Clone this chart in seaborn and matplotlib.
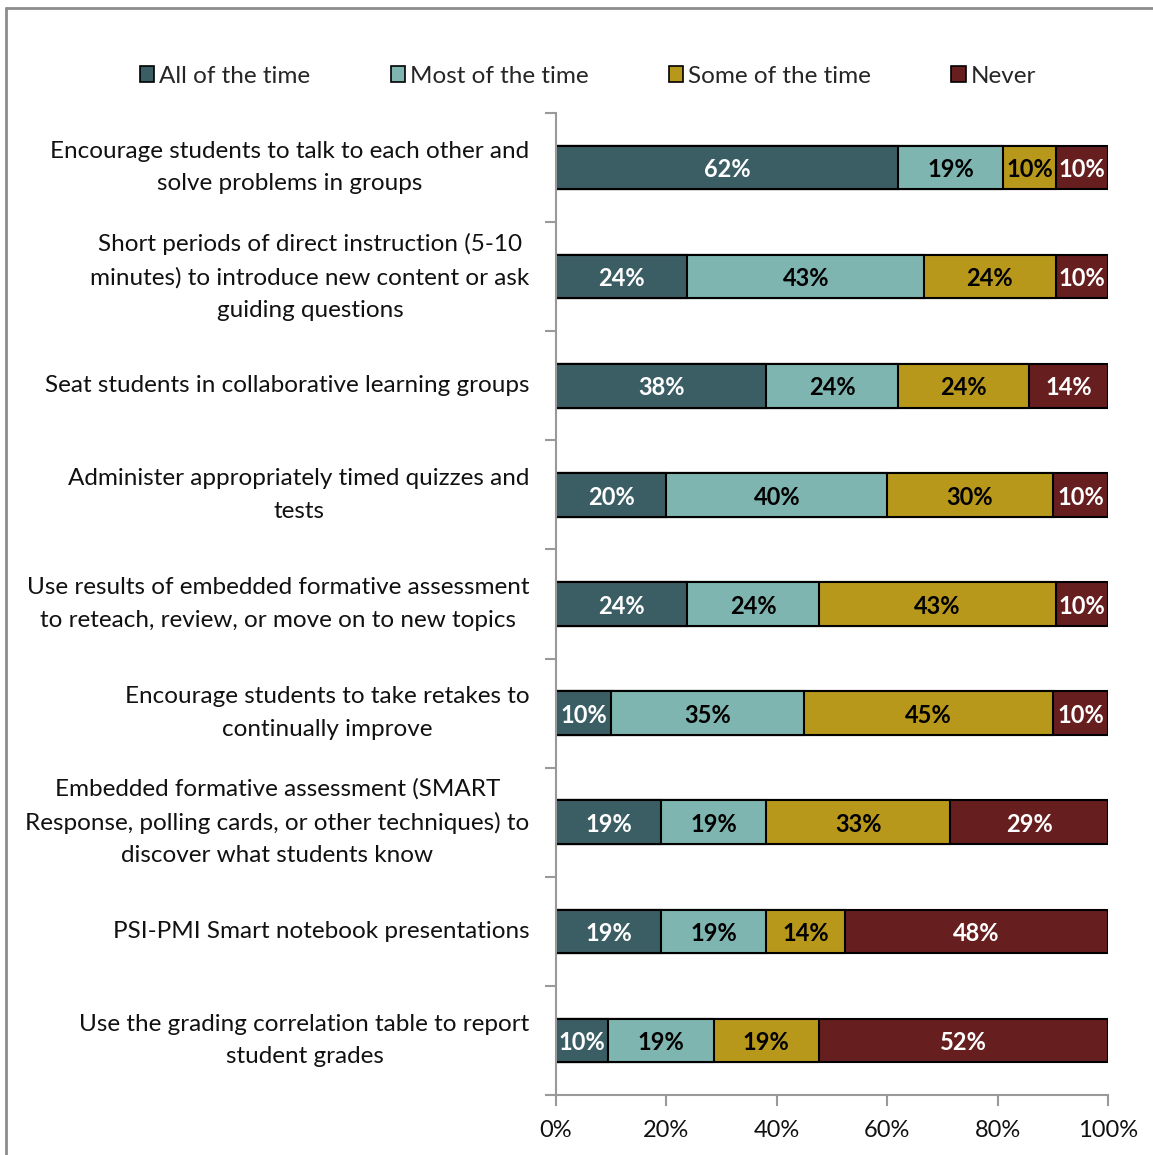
import matplotlib
matplotlib.use("Agg")
import matplotlib.pyplot as plt
import matplotlib.lines as mlines
from matplotlib.patches import Patch
import numpy as np
import pandas as pd
import seaborn as sns

# Survey items (top to bottom)
practices = [
    "Encourage students to talk to each other and\nsolve problems in groups",
    "Short periods of direct instruction (5-10\nminutes) to introduce new content or ask\nguiding questions",
    "Seat students in collaborative learning groups",
    "Administer appropriately timed quizzes and\ntests",
    "Use results of embedded formative assessment\nto reteach, review, or move on to new topics",
    "Encourage students to take retakes to\ncontinually improve",
    "Embedded formative assessment (SMART\nResponse, polling cards, or other techniques) to\ndiscover what students know",
    "PSI-PMI Smart notebook presentations",
    "Use the grading correlation table to report\nstudent grades",
]

responses = ["All of the time", "Most of the time", "Some of the time", "Never"]

# Share of respondents (%) for each response
all_of_time = [61.9, 23.8, 38.1, 20.0, 23.8, 10.0, 19.1, 19.0, 9.5]
most_of_time = [19.1, 42.9, 23.8, 40.0, 23.8, 35.0, 19.0, 19.1, 19.1]
some_of_time = [9.5, 23.8, 23.8, 30.0, 42.9, 45.0, 33.3, 14.3, 19.0]
never = [9.5, 9.5, 14.3, 10.0, 9.5, 10.0, 28.6, 47.6, 52.4]

x_ticks = [0, 20, 40, 60, 80, 100]

colors = ["#3B5E65", "#7FB5B0", "#B8981B", "#661E1F"]
label_colors = ["white", "black", "black", "white"]

df = pd.DataFrame({
    "practice": practices,
    responses[0]: all_of_time,
    responses[1]: most_of_time,
    responses[2]: some_of_time,
    responses[3]: never,
})
cum = df[responses].cumsum(axis=1)
starts = cum - df[responses].values

sns.set_style("white")
plt.rcParams["font.family"] = ["Lato", "DejaVu Sans"]

fig = plt.figure(figsize=(11.53, 11.55), dpi=100)
ax = fig.add_axes([0.4822, 0.0519, 0.4788, 0.8503])

# Stacked bars: draw cumulative totals from the widest down
for i in range(len(responses) - 1, -1, -1):
    sns.barplot(
        x=cum[responses[i]], y=df["practice"], orient="h",
        color=colors[i], saturation=1, width=0.4,
        edgecolor="black", linewidth=1.5, ax=ax,
    )

# Value labels centred in each segment
for i, r in enumerate(responses):
    for j in range(len(practices)):
        val = df[r].iloc[j]
        center = starts[r].iloc[j] + val / 2
        ax.text(center, j + 0.02, f"{val:.0f}%", ha="center", va="center",
                color=label_colors[i], fontsize=17, fontweight="bold")

n = len(practices)
ax.set_xlim(0, 100)
ax.set_ylim(n - 0.5, -0.5)
ax.set_xticks(x_ticks)
ax.set_xticklabels([f"{t}%" for t in x_ticks], fontsize=17, color="#111111")
ax.set_yticks(range(n))
ax.set_yticklabels(practices, fontsize=17.5, color="#111111", va="center",
                   multialignment="center", linespacing=1.68)
ax.set_xlabel("")
ax.set_ylabel("")

# Category separator ticks on the left spine
ax.tick_params(axis="y", which="major", left=False, length=0, pad=19)
ax.tick_params(axis="x", bottom=True, length=8, width=1.5, color="#999999",
               direction="out", pad=10)
ax.set_yticks(np.arange(-0.5, n, 1.0), minor=True)
ax.tick_params(axis="y", which="minor", left=True, length=8, width=1.5,
               color="#999999", direction="out")

for s in ["top", "right"]:
    ax.spines[s].set_visible(False)
for s in ["left", "bottom"]:
    ax.spines[s].set_color("#999999")
    ax.spines[s].set_linewidth(1.5)

handles = [Patch(facecolor=c, edgecolor="black", linewidth=1.2) for c in colors]
fig.legend(handles, responses, loc="center", bbox_to_anchor=(0.51, 0.934),
           ncol=4, frameon=False, fontsize=17.5, handlelength=0.6,
           handleheight=0.6, handletextpad=0.2, columnspacing=3.3)

# Outer frame lines (left and top)
fig.add_artist(mlines.Line2D([0.0048, 0.0048], [0.0, 0.9935],
                             transform=fig.transFigure, color="#8C8C8C", lw=2))
fig.add_artist(mlines.Line2D([0.0048, 1.0], [0.9935, 0.9935],
                             transform=fig.transFigure, color="#8C8C8C", lw=2))

fig.savefig("out.png", dpi=100)
